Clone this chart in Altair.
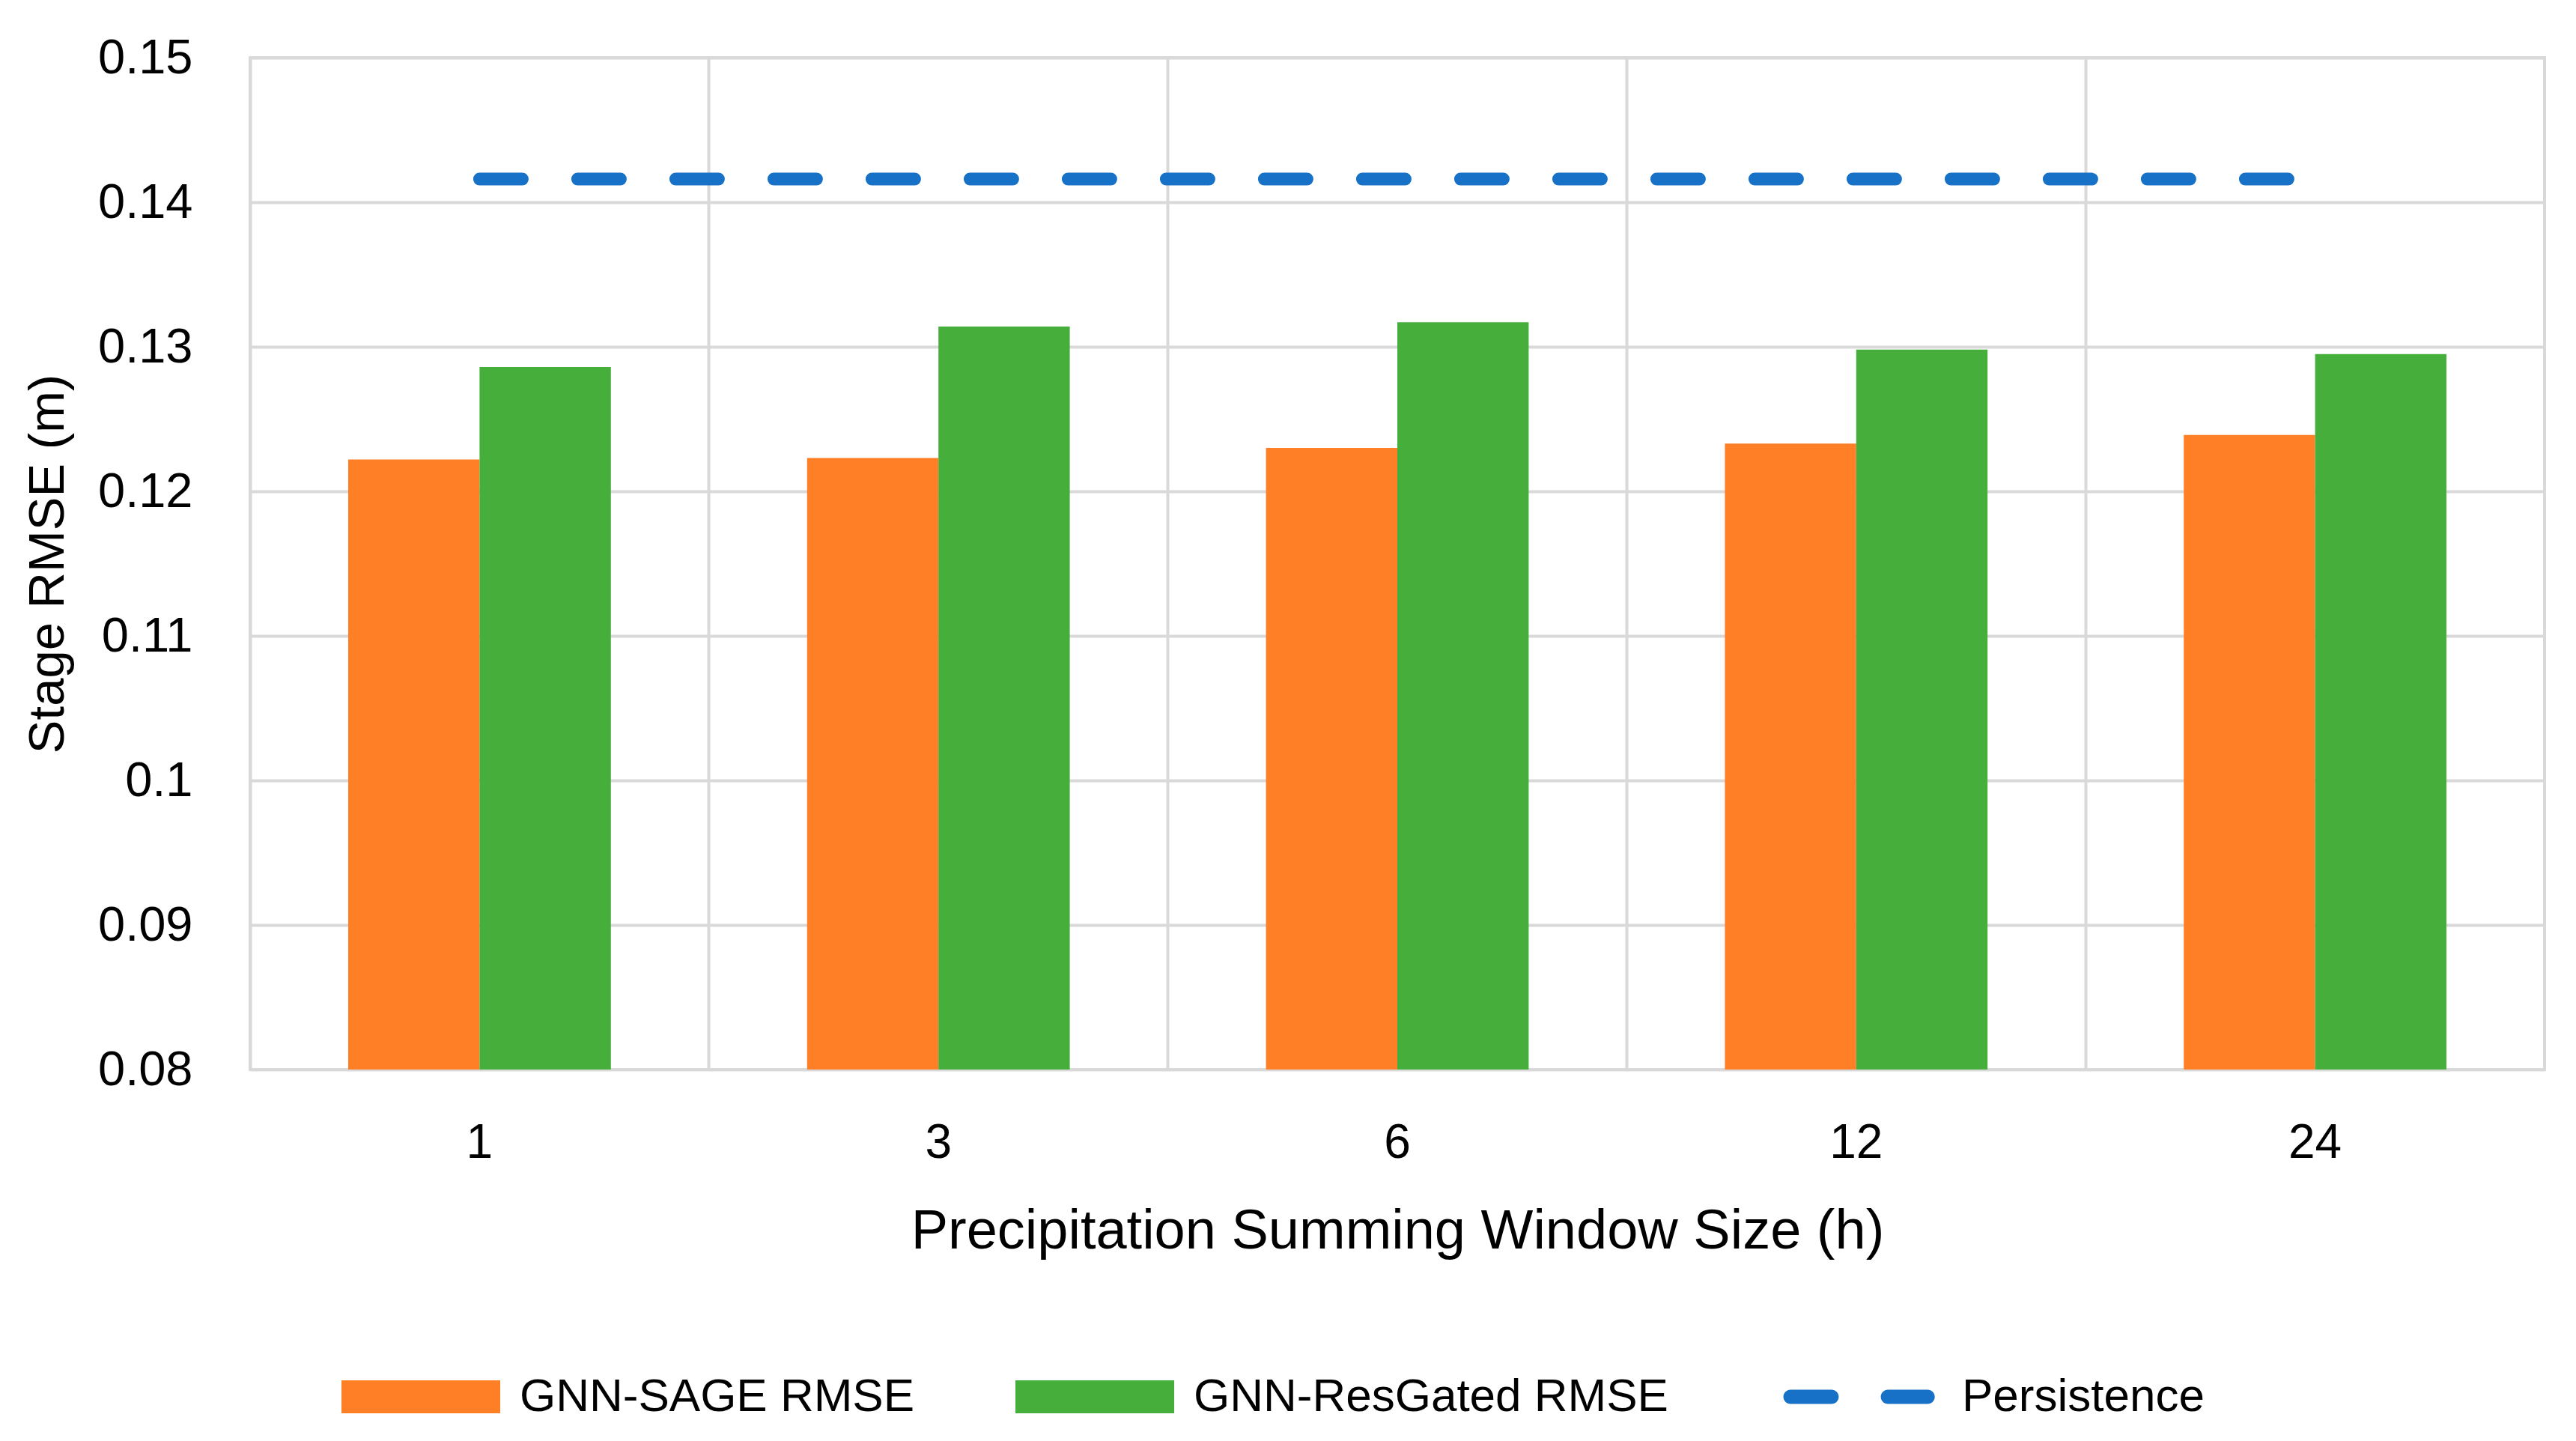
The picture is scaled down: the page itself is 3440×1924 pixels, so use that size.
import altair as alt
import pandas as pd

windows = ["1", "3", "6", "12", "24"]
sage_rmse = [0.1222, 0.1223, 0.1230, 0.1233, 0.1239]
resgated_rmse = [0.1286, 0.1314, 0.1317, 0.1298, 0.1295]
persistence = [0.1416, 0.1416, 0.1416, 0.1416, 0.1416]
bar_series = ["GNN-SAGE RMSE", "GNN-ResGated RMSE"]
y_ticks = [0.08, 0.09, 0.10, 0.11, 0.12, 0.13, 0.14, 0.15]

ORANGE = "#FF7F27"
GREEN = "#46AF3C"
BLUE = "#1671C7"
GRID = "#D9D9D9"
FONT = "Liberation Sans"

rows = []
for i, w in enumerate(windows):
    rows.append({"window": w, "series": bar_series[0], "value": sage_rmse[i]})
    rows.append({"window": w, "series": bar_series[1], "value": resgated_rmse[i]})
bars_df = pd.DataFrame(rows)
line_df = pd.DataFrame({"window": windows, "series": ["Persistence"] * len(windows), "value": persistence})

W, H = 3064, 1351

x_enc = alt.X(
    "window:N",
    sort=windows,
    scale=alt.Scale(paddingInner=0, paddingOuter=0),
    axis=alt.Axis(
        title="Precipitation Summing Window Size (h)",
        bandPosition=0,
        labelAngle=0,
        grid=True,
        gridColor=GRID,
        gridWidth=4,
        ticks=False,
        domain=False,
        labelPadding=66,
        labelFont=FONT,
        labelFontSize=64,
        labelColor="#000000",
        labelOverlap=False,
        titleFont=FONT,
        titleFontSize=74,
        titleFontWeight="normal",
        titleColor="#000000",
        titlePadding=50,
    ),
)
y_enc = alt.Y(
    "value:Q",
    scale=alt.Scale(domain=[0.08, 0.15], zero=False, nice=False),
    axis=alt.Axis(
        title="Stage RMSE (m)",
        values=y_ticks,
        format="~g",
        grid=True,
        gridColor=GRID,
        gridWidth=4,
        ticks=False,
        domain=False,
        labelPadding=77,
        labelFont=FONT,
        labelFontSize=65,
        labelColor="#000000",
        titleFont=FONT,
        titleFontSize=67,
        titleFontWeight="normal",
        titleColor="#000000",
        titlePadding=36,
    ),
)

RECT = "M-1,-0.207H1V0.207H-1Z"
DASHES = (
    "M-0.867,-0.09H-0.35A0.09,0.09 0 0 1 -0.35,0.09H-0.867A0.09,0.09 0 0 1 -0.867,-0.09Z "
    "M0.36,-0.09H0.86A0.09,0.09 0 0 1 0.86,0.09H0.36A0.09,0.09 0 0 1 0.36,-0.09Z"
)

bars = alt.Chart(bars_df).mark_bar(clip=True).encode(
    x=x_enc,
    xOffset=alt.XOffset("series:N", sort=bar_series,
                        scale=alt.Scale(paddingInner=0, paddingOuter=0.747)),
    y=y_enc,
    color=alt.Color(
        "series:N",
        sort=bar_series,
        scale=alt.Scale(domain=bar_series, range=[ORANGE, GREEN]),
        legend=alt.Legend(
            title=None,
            orient="none",
            direction="horizontal",
            legendX=122,
            legendY=1682,
            padding=0,
            symbolType=RECT,
            symbolSize=44944,
            symbolStrokeWidth=0,
            labelOffset=26,
            columnPadding=134,
            labelFont=FONT,
            labelFontSize=62,
            labelColor="#000000",
            labelLimit=2000,
        ),
    ),
)

line = alt.Chart(line_df).mark_line(
    strokeWidth=17, strokeDash=[57, 74], strokeCap="round"
).encode(
    x=alt.X("window:N", sort=windows),
    y=alt.Y("value:Q"),
    stroke=alt.Stroke(
        "series:N",
        scale=alt.Scale(domain=["Persistence"], range=[BLUE]),
        legend=alt.Legend(
            title=None,
            orient="none",
            direction="horizontal",
            legendX=2043,
            legendY=1682,
            padding=0,
            symbolType=DASHES,
            symbolSize=44944,
            symbolFillColor=BLUE,
            symbolStrokeWidth=0,
            symbolDash=[1, 0],
            labelOffset=31,
            labelFont=FONT,
            labelFontSize=62,
            labelColor="#000000",
            labelLimit=2000,
        ),
    ),
)

chart = alt.layer(bars, line).properties(
    width=W,
    height=H,
    autosize=alt.AutoSizeParams(type="none"),
    padding={"left": 326, "top": 69, "right": 34, "bottom": 488},
    background="white",
).configure_view(stroke=GRID, strokeWidth=4)

chart.save("out.html", embed_options={"renderer": "svg", "actions": False})
